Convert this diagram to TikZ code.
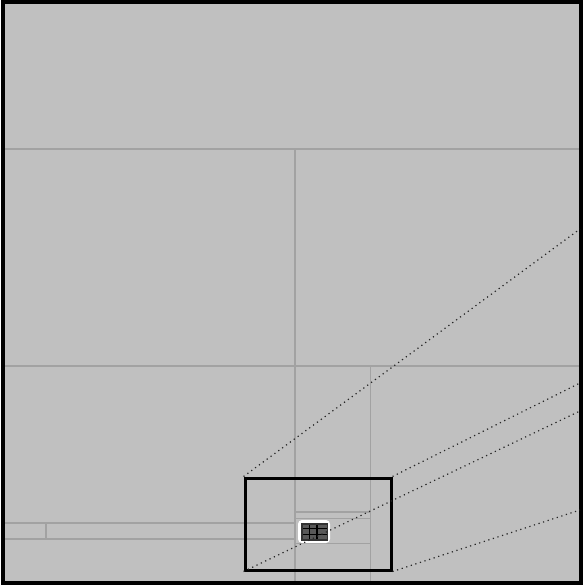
\documentclass[tikz,border=0pt]{standalone}
\usetikzlibrary{positioning}

\definecolor{cellbg}{HTML}{C0C0C0}
\definecolor{cellline}{HTML}{A2A2A2}

\begin{document}
\begin{tikzpicture}[x=1pt,y=-1pt,
  cell/.style={draw=cellline,line width=1.5pt},
  zoombox/.style={draw=black,line width=3pt,inner sep=0pt,
    minimum width=146pt,minimum height=92pt},
  ray/.style={line width=1.2pt,dash pattern=on 1.2pt off 3.6pt,black!85}]
  \useasboundingbox (0,0) rectangle (583,588);
  \fill[white] (0,0) rectangle (583,588);
  \fill[cellbg] (2.5,2.5) rectangle (580.5,583);

  % cell boundaries
  \draw[cell] (4,149) -- (579,149);
  \draw[cell] (295,149) -- (295,582);
  \draw[cell] (4,366) -- (579,366);
  \draw[cell] (370.5,366) -- (370.5,582);
  \draw[cell] (4,523) -- (295,523);
  \draw[cell] (4,539) -- (295,539);
  \draw[cell] (46,523) -- (46,539);
  \draw[cell] (295,512) -- (370.5,512);
  \draw[cell,line width=1pt] (295,518) -- (370.5,518);
  \draw[cell] (295,543.5) -- (370.5,543.5);

  % the small item
  \fill[white,rounded corners=4pt] (298,520) rectangle (330,543);
  \fill[gray!70!black] (302,524) rectangle (327.5,540);
  \draw[black,line width=1.8pt] (309.5,524) -- (309.5,540);
  \draw[black,line width=1.8pt] (317,524) -- (317,540);
  \draw[black,line width=1.8pt] (302,528.5) -- (327.5,528.5);
  \draw[black,line width=1.8pt] (302,534.5) -- (327.5,534.5);
  \draw[black!80,line width=1.2pt] (302,524) rectangle (327.5,540);

  % outer frame
  \draw[black,line width=4pt] (2.5,2.5) rectangle (580.5,583);

  % zoom window and its rays
  \node[zoombox] (zoom) at (318,524) {};
  \coordinate (ra) at (580,229);
  \coordinate (rb) at (580,383);
  \coordinate (rc) at (580,411);
  \coordinate (rd) at (580,510);
  \draw[ray] (zoom.north west) -- (ra);
  \draw[ray] (zoom.north east) -- (rb);
  \draw[ray] (zoom.south west) -- (rc);
  \draw[ray] (zoom.south east) -- (rd);
\end{tikzpicture}
\end{document}
